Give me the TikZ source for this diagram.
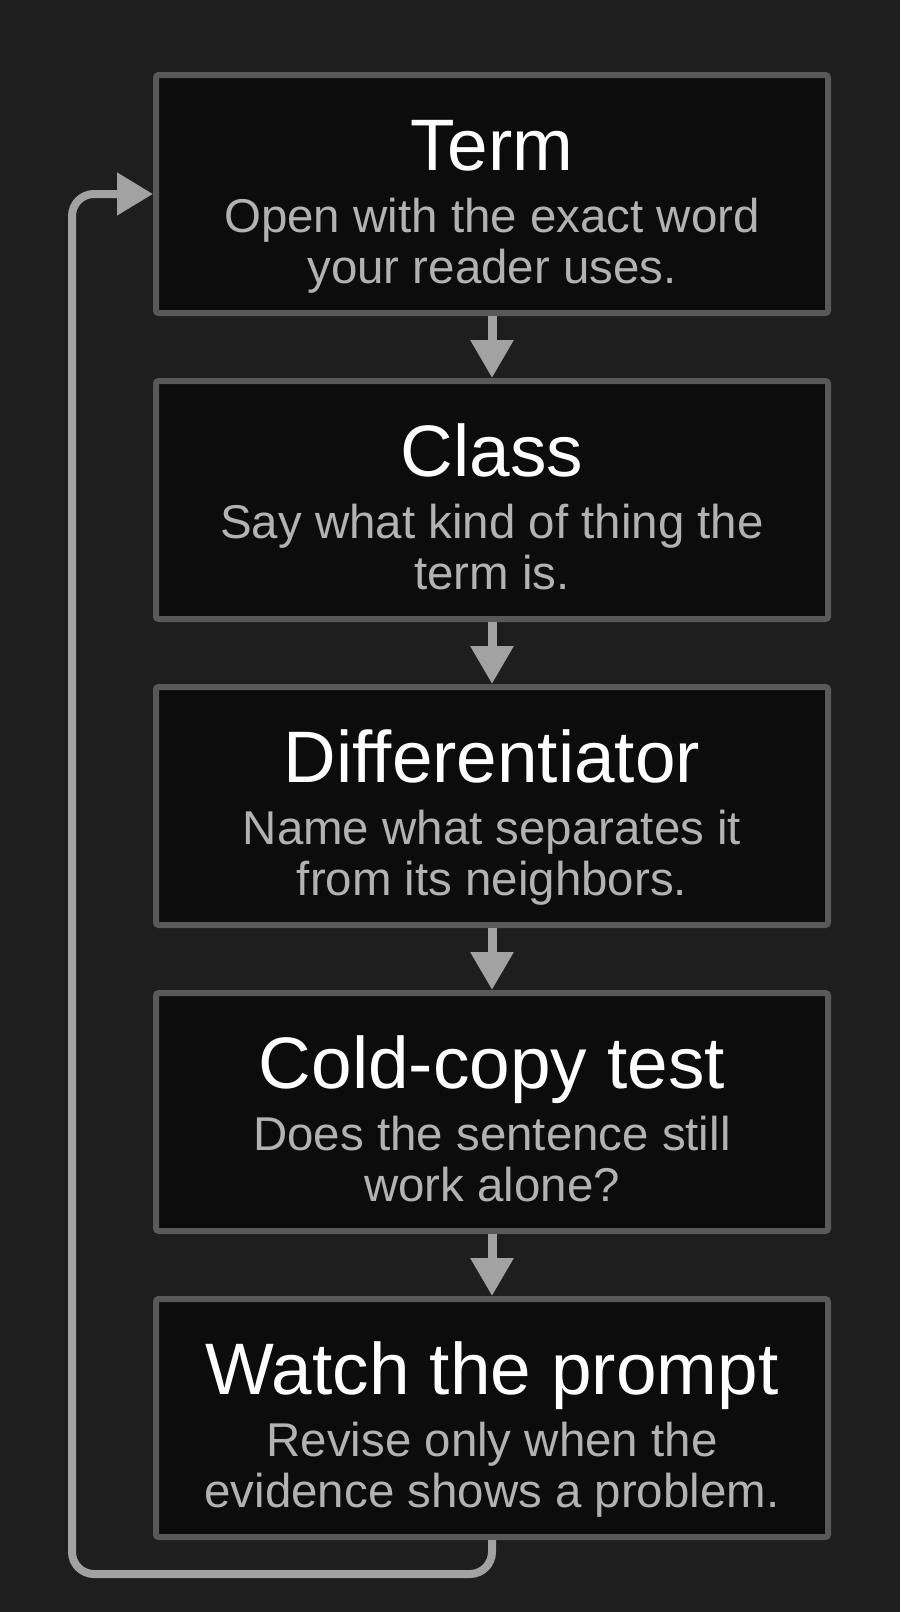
\documentclass[tikz,border=0pt]{standalone}
\usepackage{fontspec}
\setmainfont{Liberation Sans}
\usepackage{tikz}
\usetikzlibrary{positioning}
\usetikzlibrary{arrows.meta}
\definecolor{bg}{HTML}{1E1E1E}
\definecolor{boxfill}{HTML}{0C0C0C}
\definecolor{boxline}{HTML}{595959}
\definecolor{flowgray}{HTML}{A2A2A2}
\definecolor{subgray}{HTML}{B2B2B2}

\begin{document}
\begin{tikzpicture}
    \tikzset{ stage/.style={draw=boxline, fill=boxfill, line width=0.12cm, rounded corners=1.5pt, minimum width=13.44cm, minimum height=4.76cm} }
    \tikzset{ ttl/.style={text=white, anchor=base, inner sep=0pt, font=\fontsize{41.5}{48}\selectfont} }
    \tikzset{ sub/.style={text=subgray, anchor=base, inner sep=0pt, align=center, font=\fontsize{27}{29}\selectfont} }
    \tikzset{ flow/.style={draw=flowgray, line width=0.18cm, -{Triangle[width=0.82cm, length=0.76cm]}} }
    \tikzset{ back/.style={draw=flowgray, line width=0.16cm, rounded corners=0.44cm, -{Triangle[width=0.82cm, length=0.72cm]}} }

    \fill[bg] (0,0) rectangle (18,-32.24);
    \useasboundingbox (0,0) rectangle (18,-32.24);

    \node[stage]                  (t1) at (9.84,-3.88) {};
    \node[stage, below=1.24cm of t1] (t2)              {};
    \node[stage, below=1.24cm of t2] (t3)              {};
    \node[stage, below=1.24cm of t3] (t4)              {};
    \node[stage, below=1.24cm of t4] (t5)              {};

    \node[ttl] (h1) at ([yshift=-1.96cm]t1.north) {Term};
    \node[sub] (s1) at ([yshift=-4.22cm]t1.north) {Open with the exact word\\your reader uses.};
    \node[ttl] (h2) at ([yshift=-1.96cm]t2.north) {Class};
    \node[sub] (s2) at ([yshift=-4.22cm]t2.north) {Say what kind of thing the\\term is.};
    \node[ttl] (h3) at ([yshift=-1.96cm]t3.north) {Differentiator};
    \node[sub] (s3) at ([yshift=-4.22cm]t3.north) {Name what separates it\\from its neighbors.};
    \node[ttl] (h4) at ([yshift=-1.96cm]t4.north) {Cold-copy test};
    \node[sub] (s4) at ([yshift=-4.22cm]t4.north) {Does the sentence still\\work alone?};
    \node[ttl] (h5) at ([yshift=-1.96cm]t5.north) {Watch the prompt};
    \node[sub] (s5) at ([yshift=-4.22cm]t5.north) {Revise only when the\\evidence shows a problem.};

    \draw[flow] (t1.south) -- (t2.north);
    \draw[flow] (t2.south) -- (t3.north);
    \draw[flow] (t3.south) -- (t4.north);
    \draw[flow] (t4.south) -- (t5.north);

    % loop back to the first stage
    \coordinate (ret) at (1.44,-31.48);
    \draw[back] (t5.south) |- (ret) |- (t1.west);
\end{tikzpicture}
\end{document}
